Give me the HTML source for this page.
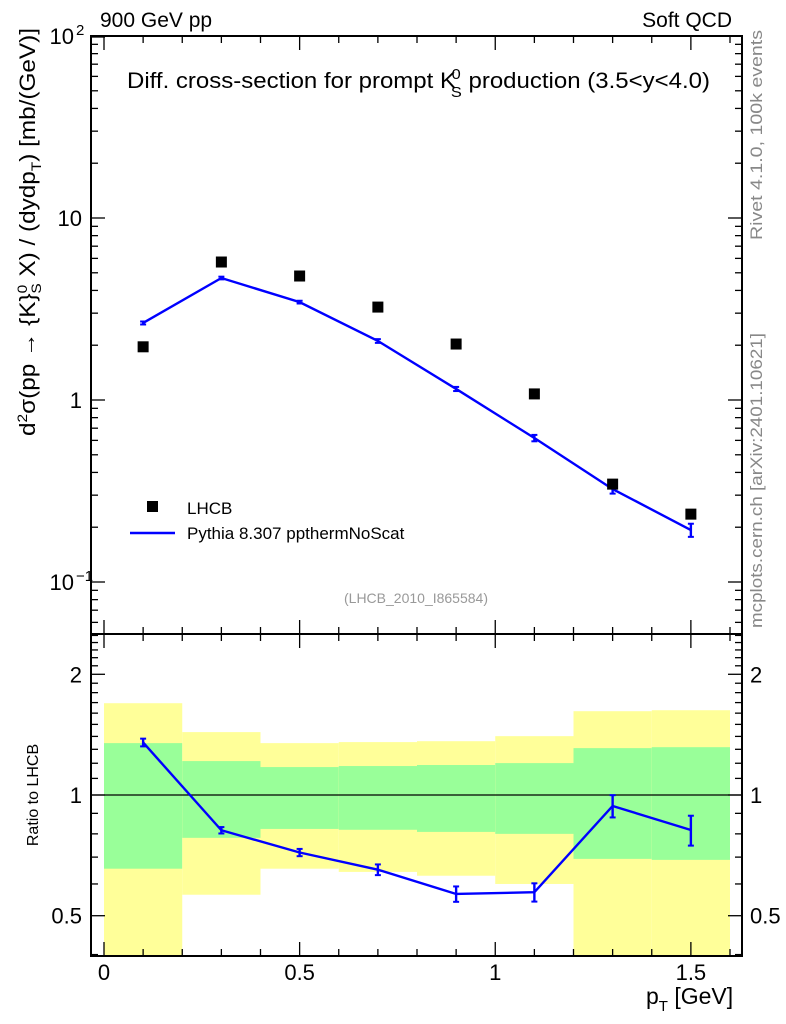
<!DOCTYPE html>
<html><head><meta charset="utf-8"><style>
body{margin:0;background:#fff}
svg{display:block;font-family:"Liberation Sans",sans-serif}
</style></head><body>
<svg id="c" width="786" height="1024" viewBox="0 0 786 1024"></svg>
<script>
const xBinsLo=[0,0.2,0.4,0.6,0.8,1.0,1.2,1.4];
const xCenters=[0.1,0.3,0.5,0.7,0.9,1.1,1.3,1.5];
const lhcbVals=[1.96,5.73,4.8,3.24,2.03,1.08,0.345,0.236];
const mcVals=[2.65,4.68,3.45,2.11,1.15,0.618,0.324,0.193];
const mcErr=[0.05,0.08,0.06,0.05,0.03,0.025,0.018,0.016];
const ratioErr=[0.03,0.015,0.015,0.02,0.025,0.03,0.06,0.07];
const yellowHi=[1.694,1.435,1.347,1.355,1.362,1.402,1.618,1.627];
const yellowLo=[0.35,0.564,0.655,0.643,0.629,0.60,0.35,0.35];
const greenHi=[1.347,1.215,1.174,1.181,1.188,1.201,1.309,1.316];
const greenLo=[0.655,0.782,0.823,0.819,0.809,0.80,0.693,0.689];
const xTicks=[0,0.5,1,1.5];
const xTickLabels=["0","0.5","1","1.5"];

const NS="http://www.w3.org/2000/svg";
const svg=document.getElementById('c');
function el(t,a,p){const e=document.createElementNS(NS,t);for(const k in a)e.setAttribute(k,a[k]);(p||svg).appendChild(e);return e;}
const L=91,R=742,T1=36,B1=634,T2=634,B2=956;
const X=v=>104+v*391.25;
const Y1=v=>400-Math.log10(v)*182;
const Y2=v=>Math.max(T2,Math.min(B2,795-Math.log10(v)*401));

const bands=el('g',{});


for(let i=0;i<xBinsLo.length;i++){
  const x0=X(xBinsLo[i]),x1=X(xBinsLo[i]+0.2);
  const y=el('rect',{x:x0,y:Y2(yellowHi[i]),width:x1-x0,height:Y2(yellowLo[i])-Y2(yellowHi[i]),fill:'#ffff99'},bands);
  
  
  const g=el('rect',{x:x0,y:Y2(greenHi[i]),width:x1-x0,height:Y2(greenLo[i])-Y2(greenHi[i]),fill:'#99ff99'},bands);
  
  
}
el('line',{x1:L,x2:R,y1:Y2(1),y2:Y2(1),stroke:'#000','stroke-width':1.2});

for(const [t,b,n] of [[T1,B1,'main-plot-frame'],[T2,B2,'ratio-plot-frame']]){
  const f=el('rect',{x:L,y:t,width:R-L,height:b-t,fill:'none',stroke:'#000','stroke-width':2});
  
  
}
for(const [t,b] of [[T1,B1],[T2,B2]]){
  for(let k=0;k<=16;k++){const v=k*0.1,x=X(v),len=(k%5==0)?14:7;
    el('line',{x1:x,x2:x,y1:b,y2:b-len,stroke:'#000','stroke-width':1.3});
    el('line',{x1:x,x2:x,y1:t,y2:t+len,stroke:'#000','stroke-width':1.3});}
}
xTicks.forEach((v,i)=>{const t=el('text',{x:X(v),y:980,'font-size':22,'text-anchor':'middle'});t.textContent=xTickLabels[i];
});
for(let d=-2;d<=1;d++)for(let m=1;m<=9;m++){const v=m*Math.pow(10,d),y=Y1(v);if(y<T1-0.5||y>B1)continue;
  const len=m==1?14:7;
  el('line',{x1:L,x2:L+len,y1:y,y2:y,stroke:'#000','stroke-width':1.3});
  el('line',{x1:R,x2:R-len,y1:y,y2:y,stroke:'#000','stroke-width':1.3});}
el('line',{x1:L,x2:L+14,y1:T1+1,y2:T1+1,stroke:'#000','stroke-width':1.3});
const yl=[[100,'10','2'],[10,'10',''],[1,'1',''],[0.1,'10','−1']];
yl.forEach(([v,b,s])=>{const t=el('text',{x:s?74:82,y:Y1(v)+8,'font-size':22,'text-anchor':'end'});t.textContent=b;
 
 if(s){const u=el('text',{x:76,y:Y1(v)-1,'font-size':15});u.textContent=s;}});
for(let m=4;m<=25;m++){const v=m/10,y=Y2(v);if(y<=T2||y>=B2)continue;
  const len=(v==0.5||v==1||v==2)?14:7;
  el('line',{x1:L,x2:L+len,y1:y,y2:y,stroke:'#000','stroke-width':1.3});
  el('line',{x1:R,x2:R-len,y1:y,y2:y,stroke:'#000','stroke-width':1.3});}
[[2,'2'],[1,'1'],[0.5,'0.5']].forEach(([v,s])=>{
 const a=el('text',{x:82,y:Y2(v)+8,'font-size':22,'text-anchor':'end'});a.textContent=s;
 
 const b=el('text',{x:750,y:Y2(v)+8,'font-size':22});b.textContent=s;
 });

const mcLine=el('polyline',{points:xCenters.map((x,i)=>X(x)+','+Y1(mcVals[i])).join(' '),fill:'none',stroke:'#0000ff','stroke-width':2.4});


xCenters.forEach((x,i)=>{const a=Y1(mcVals[i]+mcErr[i]),b=Y1(mcVals[i]-mcErr[i]);
 el('line',{x1:X(x),x2:X(x),y1:a,y2:b,stroke:'#0000ff','stroke-width':2.4});
 el('line',{x1:X(x)-3,x2:X(x)+3,y1:a,y2:a,stroke:'#0000ff','stroke-width':2});
 el('line',{x1:X(x)-3,x2:X(x)+3,y1:b,y2:b,stroke:'#0000ff','stroke-width':2});});
xCenters.forEach((x,i)=>{const r=el('rect',{x:X(x)-5.5,y:Y1(lhcbVals[i])-5.5,width:11,height:11,fill:'#000'});
 });
const rv=xCenters.map((x,i)=>mcVals[i]/lhcbVals[i]);
const rl=el('polyline',{points:xCenters.map((x,i)=>X(x)+','+Y2(rv[i])).join(' '),fill:'none',stroke:'#0000ff','stroke-width':2.4});


xCenters.forEach((x,i)=>{const a=Y2(rv[i]+ratioErr[i]),b=Y2(rv[i]-ratioErr[i]);
 el('line',{x1:X(x),x2:X(x),y1:a,y2:b,stroke:'#0000ff','stroke-width':2.4});
 el('line',{x1:X(x)-3,x2:X(x)+3,y1:a,y2:a,stroke:'#0000ff','stroke-width':2});
 el('line',{x1:X(x)-3,x2:X(x)+3,y1:b,y2:b,stroke:'#0000ff','stroke-width':2});});
</script>
<svg width="786" height="1024" style="position:absolute;left:0;top:0;font-family:'Liberation Sans',sans-serif">
<text x="100" y="27" font-size="21">900 GeV pp</text>
<text x="732" y="27" font-size="21" text-anchor="end">Soft QCD</text>
<text x="127" y="88" font-size="22" textLength="583" lengthAdjust="spacingAndGlyphs">Diff. cross-section for prompt K<tspan font-size="15" dy="-9" dx="-4">0</tspan><tspan font-size="15" dy="18" dx="-9">S</tspan><tspan dy="-9"> production (3.5&lt;y&lt;4.0)</tspan></text>
<text transform="translate(35,232) rotate(-90)" font-size="22" text-anchor="middle" textLength="408" lengthAdjust="spacingAndGlyphs">d<tspan font-size="14" dy="-8">2</tspan><tspan dy="8">σ(pp → {K}</tspan><tspan font-size="14" dy="-8">0</tspan><tspan font-size="14" dy="14" dx="-8">S</tspan><tspan dy="-6"> X) / (dydp</tspan><tspan font-size="14" dy="6">T</tspan><tspan dy="-6">) [mb/(GeV)]</tspan></text>
<text transform="translate(38,795) rotate(-90)" font-size="16" text-anchor="middle">Ratio to LHCB</text>
<text x="646" y="1004" font-size="23">p<tspan font-size="15" dy="7">T</tspan><tspan dy="-7"> [GeV]</tspan></text>
<text transform="translate(762,240) rotate(-90)" font-size="17" fill="#888" textLength="210" lengthAdjust="spacingAndGlyphs">Rivet 4.1.0,  100k events</text>
<text transform="translate(762,628) rotate(-90)" font-size="17" fill="#888" textLength="295" lengthAdjust="spacingAndGlyphs">mcplots.cern.ch [arXiv:2401.10621]</text>
<text x="416" y="603" font-size="14" fill="#999" text-anchor="middle">(LHCB_2010_I865584)</text>
<rect x="147" y="501" width="11" height="11" fill="#000"/>
<text x="187" y="514" font-size="17">LHCB</text>
<line x1="130" x2="175" y1="533" y2="533" stroke="#0000ff" stroke-width="2.4"/>
<text x="187" y="539" font-size="17">Pythia 8.307 ppthermNoScat</text>
</svg>
</body></html>
